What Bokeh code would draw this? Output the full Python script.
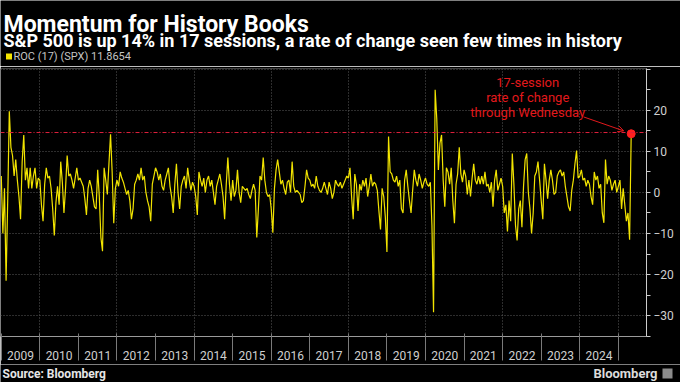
from bokeh.plotting import figure
from bokeh.layouts import column
from bokeh.models import (FixedTicker, CustomJSTickFormatter, Span, Label, Arrow,
                          OpenHead, Range1d)
from bokeh.core.properties import value
from bokeh.embed import file_html
from bokeh.resources import INLINE

# ---- data: 17-session rate of change of the S&P 500 (%), two readings per month ----
roc_2009 = [4, -10, 1, -21.5, -2, 19.8, 11, 9, 4, 8, 3, -1, -6.5, 7.5, 14, 3, 6, 1, 6, 1, 4, 6, 1, 3.5]
roc_2010 = [3, -3, -7, 2, 6, 3.5, 4, 1, -4, -10.5, -2.5, 1.5, -3, 7.5, 2.5, -5, 1, 9, 4, 4.5, 3, 1, 3.5, 6]
roc_2011 = [3, 3.5, 2.5, 1.5, -1.5, -5.5, 1, 3, 1.5, -1, -3.5, -4, 5.5, -1, -11, -14.3, 6, 3, -0.5, 7, 14.2, 5, -7.5, 1]
roc_2012 = [3, 1.5, 5, 3.5, 2.5, 1, -0.5, 0.5, -2, -6.5, -4, 2, 3, 4.5, 3, 6, 3, 4, 0, -2, -3.5, -7, 2, 4]
roc_2013 = [6, 5, 3, 4.5, 1.5, 0.5, 3, 4.5, 6, 1.5, -1, -5, 2, 7, 0, -4, 1.5, 3, 4, 1, 6, 3, 0.5, 2.5]
roc_2014 = [1.5, -1, -5.5, 5, 3, 1.5, 3.5, 0, 3, 4, 1.5, 3, 0, -3, 1.5, 3, 4.5, 2, -1, -6.5, 2, 8.5, 2, -2]
roc_2015 = [3, -1, 0.5, 5.5, 0, -2.5, 1.5, 1, 0.5, 1, -0.5, -1.5, 0.5, 2, 0.5, -11, -4, 4, 3, 8.5, 3, 0, -1, -0.5]
roc_2016 = [-4, -9.8, 1, 5.5, 8, 5, 2, 3, 1, -0.5, 2.5, 3, 0, 7.5, 1.5, 0, 0.5, 0, -0.5, -2.5, -2, 1.5, 5.5, 3.5]
roc_2017 = [3, 1.5, 2, 1, 4, 1.5, 0.5, 0, 1, 2.5, 1, -0.5, 2.5, 1, -1.5, 0, 3, 2, 1.5, 2.5, 1, 2, 3, 4]
roc_2018 = [3.5, 6, -1, -6.5, 4.5, 2, -4.5, 2, 0.5, 3, 1.5, 3.5, -1, 1.5, 4.5, 1.5, 2.5, 2, 0.5, -4.5, -9, 1, -1, -6]
roc_2019 = [-14.5, 13.6, 5, 4.5, 3, 2.5, 4, 1.5, 3, -4, -5, 3, 5.5, 1.5, -2, -5, 0.5, 5.5, 3, 1.5, 4.5, 3, 1, 2.5]
roc_2020 = [3.5, 2, 1.5, 2.5, -8, -29.2, 25, 18, 5.5, 12, 14, 3, -3.5, 6, 5, 2, 6, -2, -7.5, 2, 4.5, 11, 4.5, 2.5]
roc_2021 = [5.5, 4, -0.5, 3, -1, 3.5, 7, 3, 2, 4, 2, 4, 2, 5, 1.5, 2, 0, 2.5, -3.5, 3, 5.5, 0.5, 2, 3.5]
roc_2022 = [1.5, -5, -3, -9.5, -2, -7, 9.5, 2, -8, -11.7, -4, -2, -8.5, 1.5, 8, 9.5, 0, -4, -10, -5, 4, 5, 7.5, 3]
roc_2023 = [-2, -6.5, 7, 3, -1.5, 3, 5.5, 3, -0.5, 0, 4, 5, 5.5, 4, 5, 1.5, -1, -3.5, -4.5, 0.5, 3, 7, 10.2, 3.5]
roc_2024 = [4, 5.5, 3, 3.5, 1.5, 3, 2, -1, -3, 5, 3, 4, 1, 2, -5, -7.4, 8, 2, 4, 3, 0.5, 2, 3, 0]
roc_2025 = [1.5, 3, -4, 1, -3, -7, -5, -11.5, 14.3]

years = [2009, 2010, 2011, 2012, 2013, 2014, 2015, 2016, 2017, 2018, 2019, 2020,
         2021, 2022, 2023, 2024, 2025]
series = [roc_2009, roc_2010, roc_2011, roc_2012, roc_2013, roc_2014, roc_2015, roc_2016,
          roc_2017, roc_2018, roc_2019, roc_2020, roc_2021, roc_2022, roc_2023, roc_2024,
          roc_2025]
y_ticks = [-30, -20, -10, 0, 10, 20]
threshold = 14.6
legend_text = "ROC (17) (SPX) 11.8654"

# time axis: the 1st and the 15th of each month, as fractional years
xs, ys = [], []
for yr, vals in zip(years, series):
    for i, v in enumerate(vals):
        xs.append(yr + i / 24.0)
        ys.append(v)

FONT = "Roboto"
RED = "#e3191c"
BG = "black"


def blank(height):
    f = figure(width=680, height=height, x_range=Range1d(0, 680), y_range=Range1d(height, 0),
               x_axis_type=None, y_axis_type=None, output_backend="svg", toolbar_location=None,
               background_fill_color=BG, border_fill_color=BG,
               min_border_left=0, min_border_right=0, min_border_top=0, min_border_bottom=0)
    f.outline_line_color = None
    f.grid.visible = False
    f.frame_align = False
    return f


# ---- header ----
head = blank(66)
head.text(x=[3], y=[24], text=["Momentum for History Books"], text_color="#ffffff",
          text_font=value(FONT), text_font_size=value("23px"), text_font_style="bold",
          text_baseline="alphabetic")
head.text(x=[3], y=[40], text=["S&P 500 is up 14% in 17 sessions, a rate of change seen few times in history"],
          text_color="#ffffff", text_font=value(FONT), text_font_size=value("18px"),
          text_font_style="bold", text_baseline="alphabetic")
head.scatter(x=[8.5], y=[56], marker="square", size=6, fill_color="#f5e600", line_color=None)
head.text(x=[13], y=[56], text=[legend_text], text_color="#c4c4c4", text_font=value(FONT),
          text_font_size=value("11px"), text_baseline="middle")

# ---- main chart ----
p = figure(width=680, height=298,
           x_range=Range1d(2008.98, 2025.73), y_range=Range1d(-35.1, 30.2),
           y_axis_location="right", output_backend="svg", toolbar_location=None,
           background_fill_color=BG, border_fill_color=BG,
           min_border_left=0, min_border_right=34, min_border_top=2, min_border_bottom=28)
p.outline_line_color = None
p.frame_align = False

xa = p.xaxis[0]
xa.ticker = FixedTicker(ticks=[y + 0.5 for y in years[:-1]], minor_ticks=years)
xa.formatter = CustomJSTickFormatter(code="return String(Math.floor(tick));")
xa.major_tick_line_color = None
xa.major_tick_out = 0
xa.major_tick_in = 0
xa.minor_tick_line_color = "#7a7a7a"
xa.minor_tick_out = 24
xa.minor_tick_in = 3
xa.axis_line_color = "#9a9a9a"
xa.major_label_text_color = "#cfcfcf"
xa.major_label_text_font = FONT
xa.major_label_text_font_size = "12px"
xa.major_label_standoff = -10

ya = p.yaxis[0]
ya.ticker = FixedTicker(ticks=y_ticks, minor_ticks=[-35, -25, -15, -5, 5, 15, 25, 30])
ya.major_tick_out = 4
ya.major_tick_in = 0
ya.minor_tick_out = 4
ya.minor_tick_in = 0
ya.major_tick_line_color = "#cccccc"
ya.minor_tick_line_color = "#cccccc"
ya.axis_line_color = "#cccccc"
ya.major_label_text_color = "#d0d0d0"
ya.major_label_text_font = FONT
ya.major_label_text_font_size = "12px"
ya.major_label_standoff = 3

p.xgrid.ticker = FixedTicker(ticks=[2010, 2012, 2014, 2016, 2018, 2020, 2022, 2024, 2025])
p.ygrid.ticker = FixedTicker(ticks=[-30, -20, -10, 0, 10, 20, 30])
for g in (p.xgrid, p.ygrid):
    g.grid_line_color = "#5a5a5a"
    g.grid_line_dash = "1 2"
    g.grid_line_width = 1

p.add_layout(Span(location=threshold, dimension="width", line_color="#e0203c",
                  line_dash="4 2 1 2", line_width=1))

p.line(xs, ys, line_color="#f2e400", line_width=1.2)
p.scatter([xs[-1]], [ys[-1]], size=8, fill_color="#ff2020", line_color="#ff2020")

for txt, yv in (("17-session", 26.7), ("rate of change", 23.2), ("through Wednesday", 19.4)):
    p.add_layout(Label(x=2022.65, y=yv, text=txt, text_align="center", text_baseline="middle",
                       text_color=RED, text_font=FONT, text_font_size="13px"))
p.add_layout(Arrow(x_start=2024.1, y_start=18.4, x_end=2025.14, y_end=15.0,
                   line_color=RED, line_width=1,
                   end=OpenHead(size=6, line_color=RED, line_width=1)))

# ---- footer ----
foot = blank(18)
foot.text(x=[2], y=[9], text=["Source: Bloomberg"], text_color="#e6e6e6", text_font=value(FONT),
          text_font_size=value("12px"), text_font_style="bold", text_baseline="middle")
foot.text(x=[657], y=[9], text=["Bloomberg"], text_color="#dcdcdc", text_font=value(FONT),
          text_font_size=value("13px"), text_font_style="bold", text_baseline="middle",
          text_align="right")
foot.scatter(x=[667], y=[9], marker="square", size=10, fill_color="#8c8c8c", line_color=None)

layout = column(head, p, foot, spacing=0)
open("out.html", "w").write(file_html(layout, INLINE))
